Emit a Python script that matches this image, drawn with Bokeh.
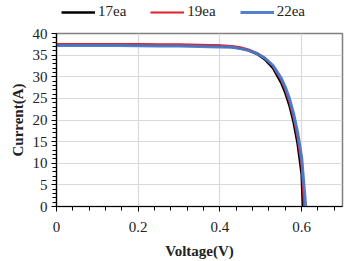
from bokeh.plotting import figure
from bokeh.layouts import column
from bokeh.models import FixedTicker, Legend, LegendItem, Range1d
from bokeh.embed import file_html
from bokeh.resources import INLINE

# I-V curves for three module configurations
v_17 = [0, 0.05, 0.1, 0.15, 0.2, 0.25, 0.3, 0.35, 0.4, 0.43, 0.45, 0.47, 0.49,
        0.51, 0.53, 0.55, 0.56, 0.57, 0.58, 0.59, 0.60, 0.603]
i_17 = [37.4, 37.4, 37.4, 37.4, 37.35, 37.3, 37.3, 37.2, 37.1, 36.9, 36.6, 36.1,
        35.3, 34.0, 32.0, 28.6, 26.3, 23.4, 19.6, 14.6, 7.5, 0]

v_19 = [0, 0.05, 0.1, 0.15, 0.2, 0.25, 0.3, 0.35, 0.4, 0.43, 0.45, 0.47, 0.49,
        0.51, 0.53, 0.55, 0.56, 0.57, 0.58, 0.59, 0.60, 0.606]
i_19 = [37.6, 37.6, 37.6, 37.55, 37.55, 37.5, 37.5, 37.4, 37.3, 37.1, 36.8, 36.3,
        35.5, 34.3, 32.4, 29.2, 27.0, 24.2, 20.6, 15.9, 9.4, 0]

v_22 = [0, 0.05, 0.1, 0.15, 0.2, 0.25, 0.3, 0.35, 0.4, 0.43, 0.45, 0.47, 0.49,
        0.51, 0.53, 0.55, 0.56, 0.57, 0.58, 0.59, 0.60, 0.61]
i_22 = [37.2, 37.2, 37.2, 37.2, 37.15, 37.1, 37.1, 37.0, 36.9, 36.8, 36.5, 36.1,
        35.4, 34.3, 32.6, 29.7, 27.6, 25.0, 21.6, 17.2, 11.4, 0]

series_names = ["17ea", "19ea", "22ea"]
x_ticks = [0, 0.2, 0.4, 0.6]
y_ticks = [0, 5, 10, 15, 20, 25, 30, 35, 40]
x_labels = {0: "0", 0.2: "0.2", 0.4: "0.4", 0.6: "0.6"}

FONT = "Liberation Serif"
STYLES = [
    dict(line_color="black", line_width=2.5),
    dict(line_color="#e0202a", line_width=2),
    dict(line_color="#4a78c8", line_width=3, line_alpha=0.95),
]

# main I-V plot
p = figure(width=344, height=236, output_backend="svg", toolbar_location=None,
           x_range=Range1d(0, 0.7), y_range=Range1d(0, 40),
           min_border_left=56, min_border_right=2, min_border_top=8,
           min_border_bottom=55)
p.outline_line_color = "#7f7f7f"
p.outline_line_width = 1.5

curves = []
for (vs, cs), st in zip([(v_17, i_17), (v_19, i_19), (v_22, i_22)], STYLES):
    curves.append((vs, cs))
    p.line(vs, cs, **st)

for ax in (p.xaxis[0], p.yaxis[0]):
    ax.axis_line_color = "black"
    ax.axis_line_width = 1.2
    ax.major_tick_line_color = "black"
    ax.minor_tick_line_color = "black"
    ax.major_tick_out = 5
    ax.major_tick_in = 0
    ax.minor_tick_out = 4
    ax.minor_tick_in = 0
    ax.major_label_text_font = FONT
    ax.major_label_text_font_size = "15px"
    ax.major_label_text_color = "#222222"
    ax.axis_label_text_font = FONT
    ax.axis_label_text_font_style = "bold"
    ax.axis_label_text_font_size = "15px"
    ax.axis_label_text_color = "#222222"

p.xaxis.ticker = FixedTicker(ticks=x_ticks,
                             minor_ticks=[round(k * 0.04, 2) for k in range(18)])
p.xaxis.major_label_overrides = x_labels
p.xaxis.axis_label = "Voltage(V)"
p.xaxis.major_label_standoff = 10
p.xaxis.axis_label_standoff = 8

p.yaxis.ticker = FixedTicker(ticks=y_ticks, minor_ticks=list(range(0, 41)))
p.yaxis.axis_label = "Current(A)"
p.yaxis.major_label_standoff = 4
p.yaxis.axis_label_standoff = 4

p.xgrid.ticker = FixedTicker(ticks=x_ticks)
p.ygrid.ticker = FixedTicker(ticks=y_ticks)
p.xgrid.grid_line_color = "#d9d9d9"
p.ygrid.grid_line_color = "#d9d9d9"
p.xgrid.grid_line_width = 1.2
p.ygrid.grid_line_width = 1.2

# legend strip above the plot; its key lines carry the same series but sit
# outside the strip's visible range, so only the legend entries show
lg = figure(width=344, height=25, output_backend="svg", toolbar_location=None,
            x_range=Range1d(10, 11), y_range=Range1d(100, 101),
            min_border=0)
lg.axis.visible = False
lg.grid.visible = False
lg.outline_line_color = None
keys = [lg.line(vs, cs, **st) for (vs, cs), st in zip(curves, STYLES)]

legend = Legend(items=[LegendItem(label=n, renderers=[r])
                       for n, r in zip(series_names, keys)],
                orientation="horizontal", location=(3, 3),
                background_fill_alpha=0, border_line_alpha=0,
                label_text_font=FONT, label_text_font_size="15px",
                label_text_color="#222222", glyph_width=34, glyph_height=16,
                label_standoff=3, spacing=24, padding=2, margin=0)
lg.add_layout(legend, "center")

layout = column(lg, p, spacing=0)
open("out.html", "w").write(file_html(layout, INLINE))
